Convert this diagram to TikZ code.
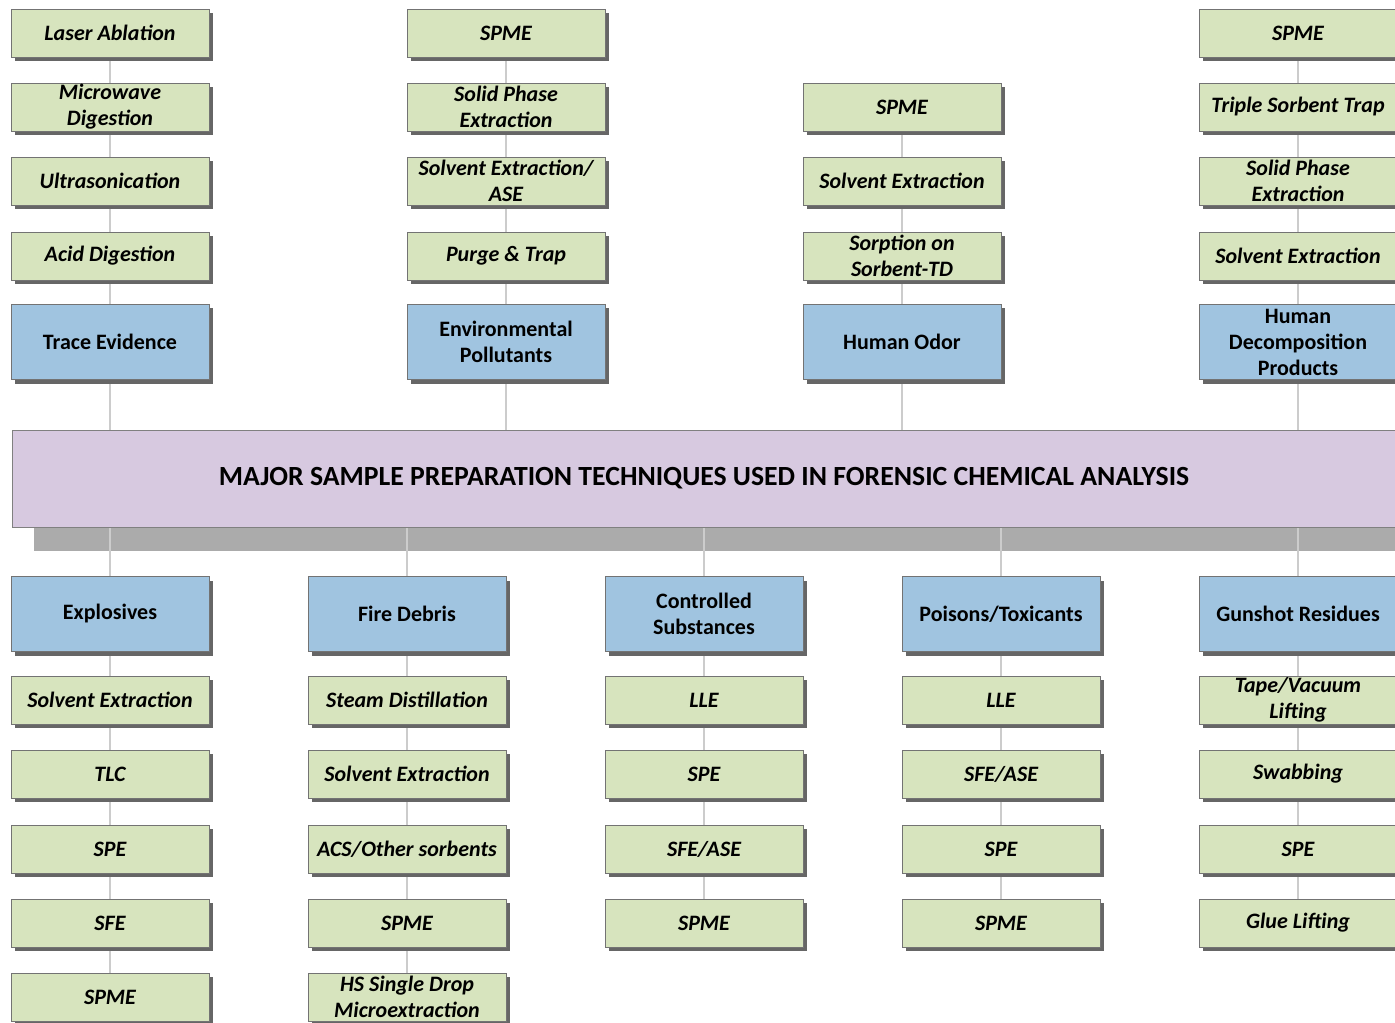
\documentclass[tikz,border=0pt]{standalone}
\usepackage{fontspec}
\setmainfont{Carlito}
\usetikzlibrary{shadows}
\definecolor{boxgreen}{RGB}{215,228,190}
\definecolor{boxblue}{RGB}{160,196,224}
\definecolor{bannerpurple}{RGB}{215,201,224}
\pgfdeclarelayer{background}
\pgfdeclarelayer{lines}
\pgfsetlayers{background,lines,main}

\begin{document}
\begin{tikzpicture}[x=0.75pt, y=-0.75pt,
    base/.style={rectangle, draw=black!55, line width=0.6pt, minimum width=148.5pt,
        align=center, inner sep=1pt,
        drop shadow={shadow xshift=3pt, shadow yshift=-3pt, fill=black!60, opacity=1},
        font=\fontsize{16.5}{19.5}\selectfont\bfseries},
    method/.style={base, fill=boxgreen, minimum height=36pt, font=\fontsize{16.5}{19.5}\selectfont\bfseries\itshape},
    field/.style={base, fill=boxblue, minimum height=56.25pt},
    link/.style={draw=black!20, line width=2pt}]
    \useasboundingbox (0,0) rectangle (1395,1023);

    % Draw the banner in the middle
    \node[rectangle, draw=black!50, fill=bannerpurple, minimum width=1038pt, minimum height=72.75pt,
        font=\fontsize{20.8}{24}\selectfont\bfseries] (banner) at (704,478.5)
        {MAJOR SAMPLE PREPARATION TECHNIQUES USED IN FORENSIC CHEMICAL ANALYSIS};

    % Draw top column 1: trace evidence
    \node[method] (t1a) at (110,33) {Laser Ablation};
    \node[method] (t1b) at (110,107) {Microwave\\Digestion};
    \node[method] (t1c) at (110,181) {Ultrasonication};
    \node[method] (t1d) at (110,256) {Acid Digestion};
    \node[field] (trace) at (110,342) {Trace Evidence};

    % Draw top column 2: environmental pollutants
    \node[method] (t2a) at (506,33) {SPME};
    \node[method] (t2b) at (506,107) {Solid Phase\\Extraction};
    \node[method] (t2c) at (506,181) {Solvent Extraction/\\ASE};
    \node[method] (t2d) at (506,256) {Purge \& Trap};
    \node[field] (enviro) at (506,342) {Environmental\\Pollutants};

    % Draw top column 3: human odor
    \node[method] (t3b) at (902,107) {SPME};
    \node[method] (t3c) at (902,181) {Solvent Extraction};
    \node[method] (t3d) at (902,256) {Sorption on\\Sorbent-TD};
    \node[field] (odor) at (902,342) {Human Odor};

    % Draw top column 4: decomposition products
    \node[method] (t4a) at (1298,33) {SPME};
    \node[method] (t4b) at (1298,107) {Triple Sorbent Trap};
    \node[method] (t4c) at (1298,181) {Solid Phase\\Extraction};
    \node[method] (t4d) at (1298,256) {Solvent Extraction};
    \node[field] (decomp) at (1298,342) {Human\\Decomposition\\Products};

    % Draw bottom column 1: explosives
    \node[field] (explo) at (110,614) {Explosives};
    \node[method] (b1a) at (110,700) {Solvent Extraction};
    \node[method] (b1b) at (110,774) {TLC};
    \node[method] (b1c) at (110,849) {SPE};
    \node[method] (b1d) at (110,923) {SFE};
    \node[method] (b1e) at (110,997) {SPME};

    % Draw bottom column 2: fire debris
    \node[field] (fire) at (407,614) {Fire Debris};
    \node[method] (b2a) at (407,700) {Steam Distillation};
    \node[method] (b2b) at (407,774) {Solvent Extraction};
    \node[method] (b2c) at (407,849) {ACS/Other sorbents};
    \node[method] (b2d) at (407,923) {SPME};
    \node[method] (b2e) at (407,997) {HS Single Drop\\Microextraction};

    % Draw bottom column 3: controlled substances
    \node[field] (drugs) at (704,614) {Controlled\\Substances};
    \node[method] (b3a) at (704,700) {LLE};
    \node[method] (b3b) at (704,774) {SPE};
    \node[method] (b3c) at (704,849) {SFE/ASE};
    \node[method] (b3d) at (704,923) {SPME};

    % Draw bottom column 4: poisons
    \node[field] (poison) at (1001,614) {Poisons/Toxicants};
    \node[method] (b4a) at (1001,700) {LLE};
    \node[method] (b4b) at (1001,774) {SFE/ASE};
    \node[method] (b4c) at (1001,849) {SPE};
    \node[method] (b4d) at (1001,923) {SPME};

    % Draw bottom column 5: gunshot residues
    \node[field] (gsr) at (1298,614) {Gunshot Residues};
    \node[method] (b5a) at (1298,700) {Tape/Vacuum\\Lifting};
    \node[method] (b5b) at (1298,774) {Swabbing};
    \node[method] (b5c) at (1298,849) {SPE};
    \node[method] (b5d) at (1298,923) {Glue Lifting};

    % Banner shadow
    \begin{pgfonlayer}{background}
        \fill[black!33] ([xshift=17pt]banner.south west) rectangle ([yshift=-18pt]banner.south east);
    \end{pgfonlayer}

    % Draw the column lines behind the boxes
    \begin{pgfonlayer}{lines}
        \draw[link] (t1a.center) -- (t1a.center |- banner.north);
        \draw[link] (t2a.center) -- (t2a.center |- banner.north);
        \draw[link] (t3b.center) -- (t3b.center |- banner.north);
        \draw[link] (t4a.center) -- (t4a.center |- banner.north);
        \draw[link] (b1e.center |- banner.south) -- (b1e.center);
        \draw[link] (b2e.center |- banner.south) -- (b2e.center);
        \draw[link] (b3d.center |- banner.south) -- (b3d.center);
        \draw[link] (b4d.center |- banner.south) -- (b4d.center);
        \draw[link] (b5d.center |- banner.south) -- (b5d.center);
    \end{pgfonlayer}

\end{tikzpicture}
\end{document}
